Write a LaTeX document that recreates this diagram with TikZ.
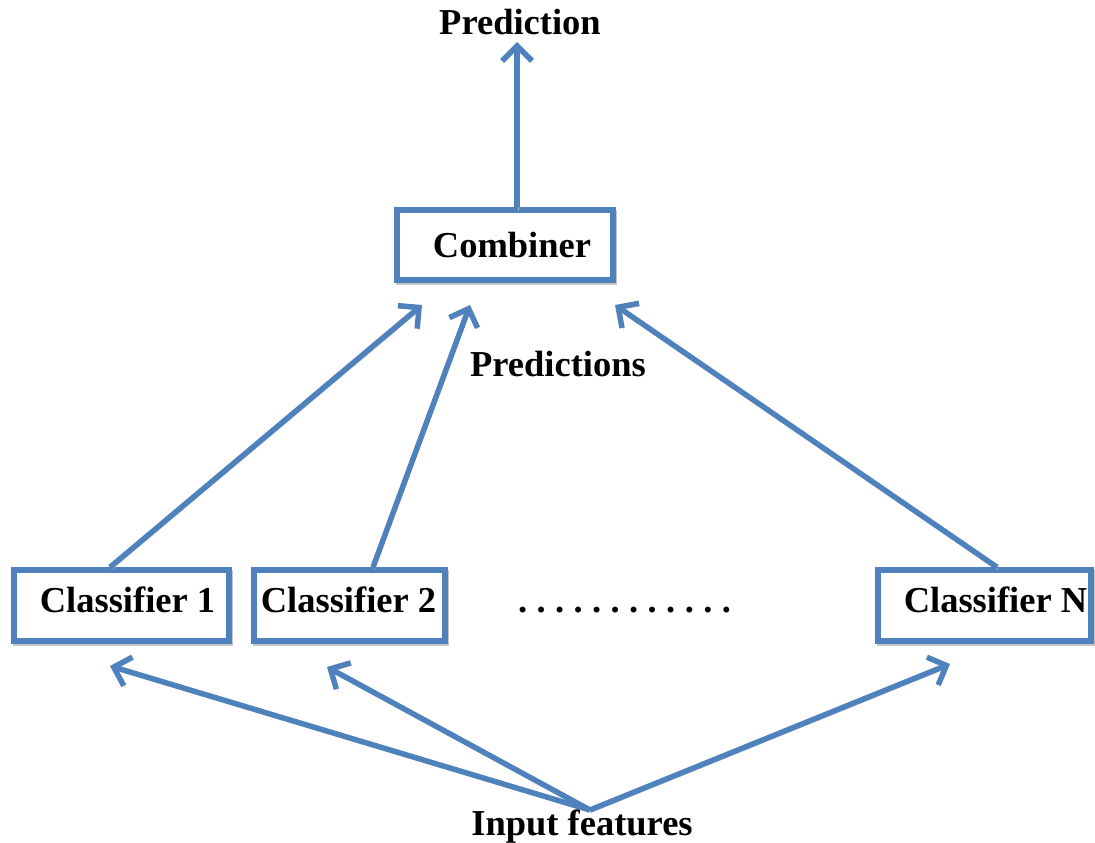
\documentclass[tikz,border=0pt]{standalone}
\usepackage{fontspec}
\setmainfont{Liberation Serif}
\usetikzlibrary{arrows.meta,calc}
\definecolor{edgeblue}{RGB}{79,129,189}
\newcommand{\gapdot}{\kern9.4pt.}
\begin{document}
\begin{tikzpicture}[x=1pt,y=-1pt,
  shade line/.style={preaction={draw=gray!45,transform canvas={shift={(1.5pt,-2.5pt)}}}},
  box/.style={draw=edgeblue,line width=5.5pt,fill=white,inner sep=0pt,shade line},
  lbl/.style={font=\fontsize{36.5}{40}\selectfont\bfseries,inner sep=0pt,anchor=base},
  flow/.style={draw=edgeblue,line width=5.5pt,shade line,
    -{Straight Barb[length=15pt,width=30pt]}}]
  \useasboundingbox (0,0) rectangle (1095,843);

  % boxes
  \node[box,minimum width=216pt,minimum height=70pt] (comb) at (505,245) {};
  \node[box,minimum width=215pt,minimum height=71pt] (c1) at (121.5,605.5) {};
  \node[box,minimum width=191pt,minimum height=71pt] (c2) at (349.5,605.5) {};
  \node[box,minimum width=213pt,minimum height=71pt] (cN) at (984.5,605.5) {};

  % labels
  \node[lbl] (tpred) at (520,35) {Prediction};
  \node[lbl] (tcomb) at (512,257) {Combiner};
  \node[lbl] (tpreds) at (558,376) {Predictions};
  \node[lbl] (t1) at (127.5,612) {Classifier 1};
  \node[lbl] (t2) at (348.5,612) {Classifier 2};
  \node[lbl] (tN) at (995.5,612) {Classifier N};
  \node[lbl] (tin) at (582,835) {Input features};
  \node[lbl] (dots) at (624.5,612) {.\gapdot\gapdot\gapdot\gapdot\gapdot\gapdot\gapdot\gapdot\gapdot\gapdot\gapdot};

  % free arrow ends
  \coordinate (outtip) at (517,42);
  \coordinate (k1) at (422,305);
  \coordinate (k2) at (470,305);
  \coordinate (kN) at (615,305);
  \coordinate (src) at (590,810);
  \coordinate (i1) at (110,666);
  \coordinate (i2) at (327,667);
  \coordinate (iN) at (950,664);

  % combiner output
  \draw[flow] ($(comb.north)+(12,0)$) -- (outtip);
  % classifier predictions into the combiner
  \draw[flow] ($(c1.north)+(-11.5,0)$) -- (k1);
  \draw[flow] ($(c2.north)+(23.5,0)$) -- (k2);
  \draw[flow] ($(cN.north)+(12.5,0)$) -- (kN);
  % input features to each classifier
  \draw[flow] (src) -- (i1);
  \draw[flow] (src) -- (i2);
  \draw[flow] (src) -- (iN);
\end{tikzpicture}
\end{document}
